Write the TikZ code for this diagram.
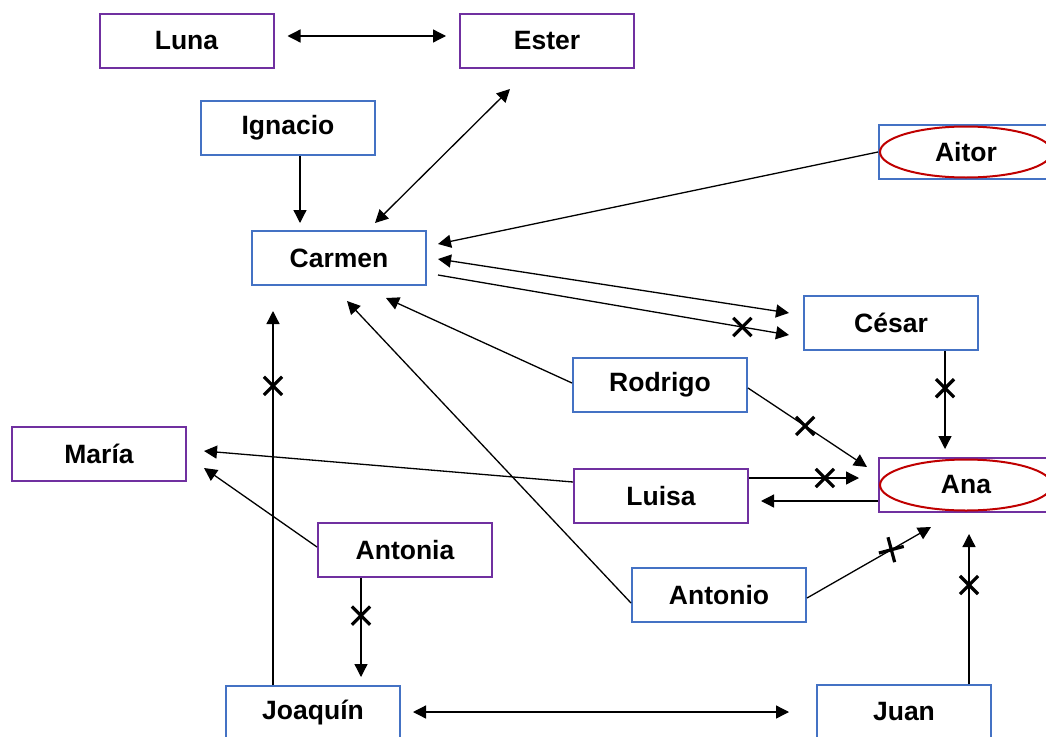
\documentclass[tikz,border=0pt]{standalone}
\usepackage{fontspec}
\setmainfont{Liberation Sans}
\usetikzlibrary{arrows.meta,shapes.geometric,shapes.misc}
\definecolor{bblue}{HTML}{4472C4}
\definecolor{ppurple}{HTML}{7030A0}
\definecolor{rred}{HTML}{C00000}
\begin{document}
\begin{tikzpicture}[x=1pt,y=-1pt,
  box/.style={draw, line width=2pt, minimum width=174pt, minimum height=54pt, inner sep=0pt,
    font=\fontsize{26.5}{30}\selectfont\bfseries, fill=white},
  bbox/.style={box, draw=bblue},
  pbox/.style={box, draw=ppurple},
  redell/.style={ellipse, draw=rred, line width=2pt, minimum width=172pt, minimum height=51pt, inner sep=0pt,
    font=\fontsize{26.5}{30}\selectfont\bfseries},
  conn/.style={line width=1.3pt, -{Triangle[length=13pt,width=13pt]}},
  bconn/.style={line width=1.3pt, {Triangle[length=13pt,width=13pt]}-{Triangle[length=13pt,width=13pt]}},
  xmark/.style={cross out, draw=black, line width=3.2pt, minimum size=15pt, inner sep=0pt},
]
\useasboundingbox (0,0) rectangle (1046,736);
\clip (0,0) rectangle (1046,736);
\fill[white] (0,0) rectangle (1046,736);

\node[pbox] (luna) at (186.5,41) {Luna};
\node[pbox] (ester) at (547,41) {Ester};
\node[bbox] (ignacio) at (288,128) {Ignacio};
\node[bbox] (aitor) at (966,152) {};
\node[redell] (aitorE) at (aitor) {Aitor};
\node[bbox] (carmen) at (339,258) {Carmen};
\node[bbox] (cesar) at (891,323) {César};
\node[bbox] (rodrigo) at (660,385) {Rodrigo};
\node[pbox] (maria) at (99,454) {María};
\node[pbox] (luisa) at (661,496) {Luisa};
\node[pbox] (ana) at (966,485) {};
\node[redell] (anaE) at (ana) {Ana};
\node[pbox] (antonia) at (405,550) {Antonia};
\node[bbox] (antonio) at (719,595) {Antonio};
\node[bbox] (joaquin) at (313,713) {Joaquín};
\node[bbox] (juan) at (904,712) {Juan};

\draw[bconn] ([shift={(13,-5)}]luna.east) -- ([shift={(-13,-5)}]ester.west);
\draw[conn] ([shift={(12,0)}]ignacio.south) -- ([shift={(-39,-7)}]carmen.north);
\draw[bconn] ([shift={(36,-7)}]carmen.north) -- ([shift={(-37,20)}]ester.south);
\draw[conn] (aitor.west) -- ([shift={(11,-14)}]carmen.east);
\draw[bconn] ([shift={(11,1)}]carmen.east) -- ([shift={(-14,-10)}]cesar.west);
\draw[conn] ([shift={(11,17)}]carmen.east) -- node[pos=0.867, xmark] (x1) {} ([shift={(-14,12)}]cesar.west);
\draw[conn] ([shift={(54,0)}]cesar.south) -- node[pos=0.38, xmark] (x2) {} ([shift={(-21,-8)}]ana.north);
\draw[conn] ([shift={(0,-2)}]rodrigo.west) -- ([shift={(47,12)}]carmen.south);
\draw[conn] ([shift={(0,3)}]rodrigo.east) -- node[pos=0.48, xmark] (x3) {} ([shift={(-11,-18)}]ana.west);
\draw[conn] ([shift={(0,-14)}]luisa.west) -- ([shift={(17,-3)}]maria.east);
\draw[conn] ([shift={(0,-18)}]luisa.east) -- node[pos=0.69, xmark] (x4) {} ([shift={(-19,-7)}]ana.west);
\draw[conn] ([shift={(0,16)}]ana.west) -- ([shift={(12,5)}]luisa.east);
\draw[conn] ([shift={(0,-3)}]antonia.west) -- ([shift={(17,14)}]maria.east);
\draw[conn] ([shift={(-44,0)}]antonia.south) -- node[pos=0.38, xmark] (x5) {} ([shift={(48,-8)}]joaquin.north);
\draw[conn] ([shift={(0,8)}]antonio.west) -- ([shift={(8,15)}]carmen.south);
\draw[conn] ([shift={(0,3)}]antonio.east) -- node[pos=0.68, xmark, rotate=-30] (x6) {} ([shift={(-35,14)}]ana.south);
\draw[conn] ([shift={(65,0)}]juan.north) -- node[pos=0.66, xmark] (x7) {} ([shift={(3,21)}]ana.south);
\draw[conn] ([shift={(-40,0)}]joaquin.north) -- node[pos=0.80, xmark] (x8) {} ([shift={(-66,25)}]carmen.south);
\draw[bconn] ([shift={(12,-1)}]joaquin.east) -- ([shift={(-27,0)}]juan.west);
\end{tikzpicture}
\end{document}
